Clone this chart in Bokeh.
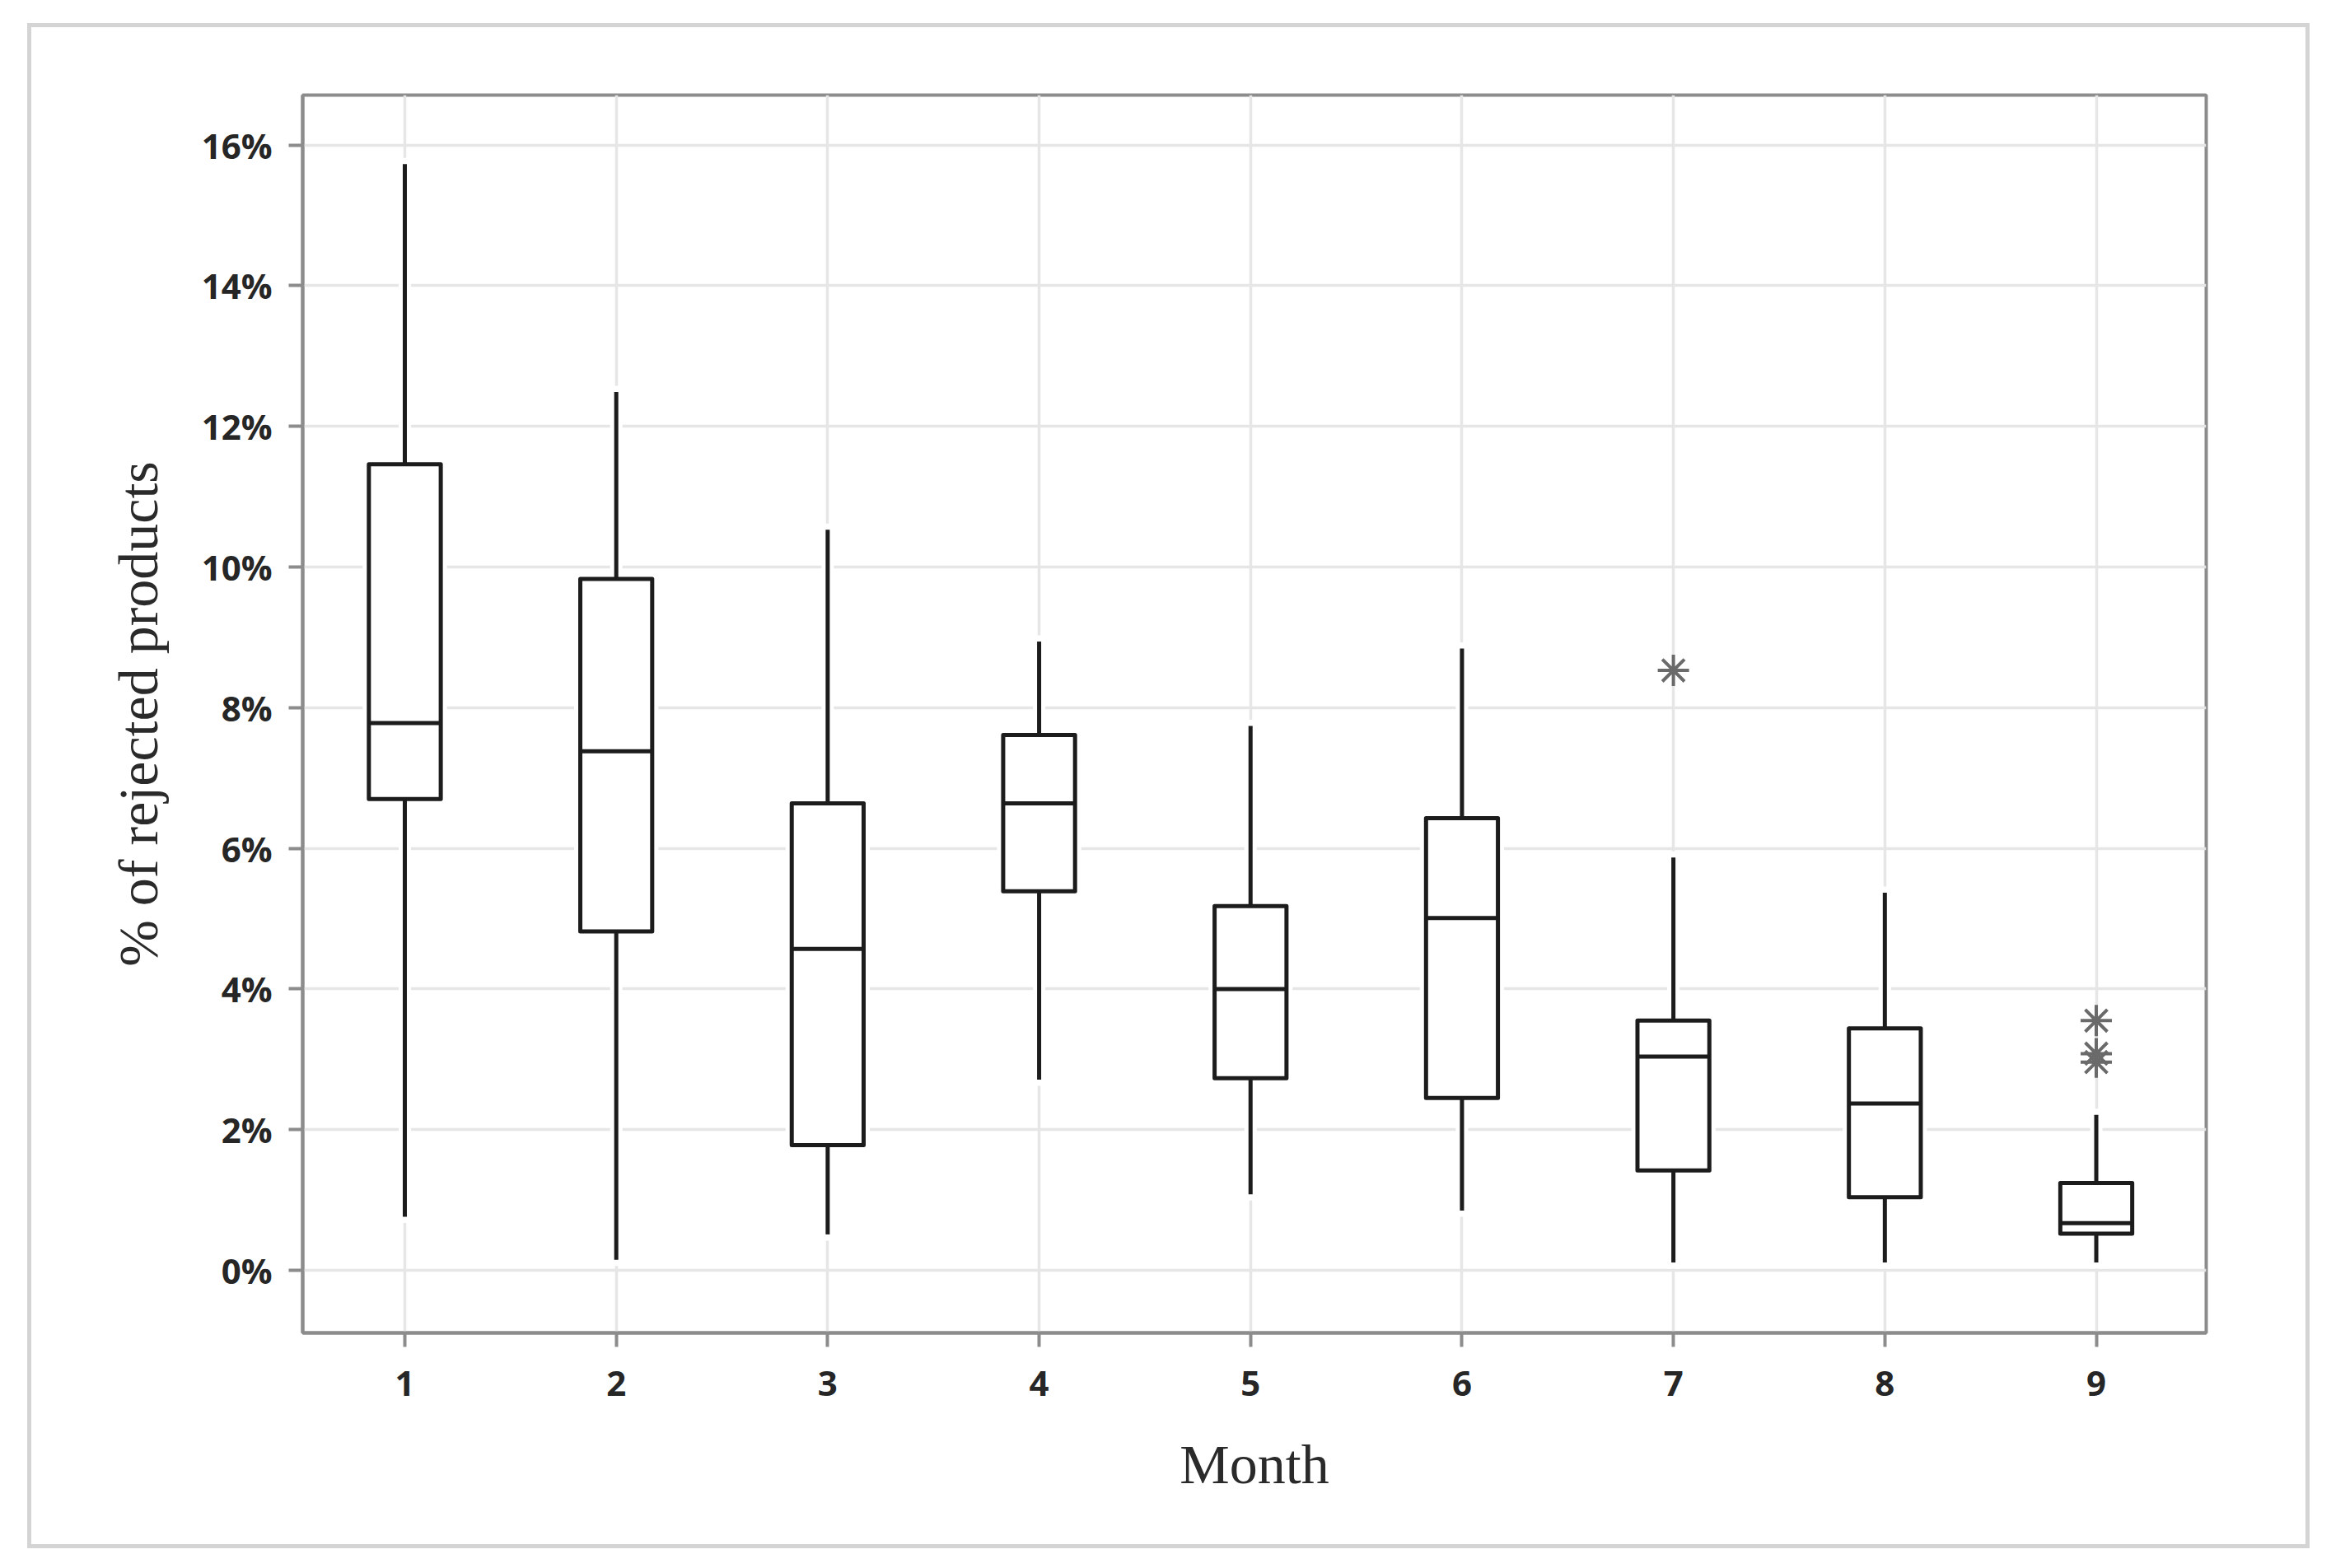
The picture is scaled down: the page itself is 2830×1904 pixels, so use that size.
import numpy as np
from bokeh.plotting import figure
from bokeh.models import FixedTicker, PrintfTickFormatter, Range1d, ColumnDataSource
from bokeh.embed import file_html
from bokeh.resources import INLINE

# ---- data (percent of rejected products) ----
months = [1, 2, 3, 4, 5, 6, 7, 8, 9]
whisker_low = [0.76, 0.15, 0.51, 2.71, 1.08, 0.85, 0.11, 0.11, 0.11]
q1 = [6.70, 4.82, 1.78, 5.39, 2.73, 2.45, 1.42, 1.04, 0.52]
median = [7.78, 7.38, 4.57, 6.64, 4.00, 5.01, 3.04, 2.37, 0.67]
q3 = [11.46, 9.83, 6.64, 7.61, 5.18, 6.43, 3.55, 3.44, 1.24]
whisker_high = [15.73, 12.49, 10.53, 8.94, 7.74, 8.84, 5.87, 5.37, 2.21]
outlier_month = [7, 9, 9, 9]
outlier_value = [8.53, 3.55, 3.08, 2.96]
y_ticks = [0, 2, 4, 6, 8, 10, 12, 14, 16]

box_width = 0.34
W, H = 2771, 1852

m = np.array(months, dtype=float)
src = ColumnDataSource(dict(
    x=m, low=whisker_low, q1=q1, med=median, q3=q3, high=whisker_high,
    xl=m - box_width / 2, xr=m + box_width / 2,
))

p = figure(width=W, height=H, output_backend="svg", toolbar_location=None,
           x_range=Range1d(0.517, 9.52), y_range=Range1d(-0.89, 16.71),
           min_border_left=334, min_border_top=87, min_border_right=126,
           min_border_bottom=262)
edge = "linear-gradient(#d4d4d4, #d4d4d4)"
p.styles = {
    "margin-left": "33px", "margin-top": "28px",
    "background-color": "white",
    "background-image": ", ".join([edge] * 4),
    "background-size": f"{W}px 5px, {W}px 5px, 5px {H}px, 5px {H}px",
    "background-position": f"0px 0px, 0px {H - 5}px, 0px 0px, {W - 5}px 0px",
    "background-repeat": "no-repeat",
}
p.border_fill_color = None
p.background_fill_color = "white"

# frame / axes
p.outline_line_color = "#8c8c8c"
p.outline_line_width = 4
p.outline_line_alpha = 1.0
for ax in (p.xaxis[0], p.yaxis[0]):
    ax.axis_line_color = "#8c8c8c"
    ax.axis_line_width = 4
    ax.major_tick_line_color = "#8c8c8c"
    ax.major_tick_line_width = 4
    ax.major_tick_out = 17
    ax.major_tick_in = 0
    ax.minor_tick_line_color = None
    ax.major_label_text_font = "Open Sans"
    ax.major_label_text_font_size = "42px"
    ax.major_label_text_font_style = "bold"
    ax.major_label_text_color = "#262626"
    ax.axis_label_text_font = "Liberation Serif"
    ax.axis_label_text_font_size = "68px"
    ax.axis_label_text_font_style = "normal"
    ax.axis_label_text_color = "#2a2a2a"

p.xaxis.ticker = FixedTicker(ticks=months)
p.yaxis.ticker = FixedTicker(ticks=y_ticks)
p.yaxis.formatter = PrintfTickFormatter(format="%d%%")
p.xaxis.axis_label = "Month"
p.yaxis.axis_label = "% of rejected products"
p.xaxis.major_label_standoff = 29
p.yaxis.major_label_standoff = 20
p.xaxis.axis_label_standoff = 42
p.yaxis.axis_label_standoff = 36

p.xgrid.grid_line_color = "#e6e6e6"
p.ygrid.grid_line_color = "#e6e6e6"
p.xgrid.grid_line_width = 3.5
p.ygrid.grid_line_width = 3.5

dark = "#1c1c1c"
lw = 5

# white halos (grid lines break around the boxes)
p.segment(x0="x", y0="low", x1="x", y1="q1", source=src, line_color="white",
          line_width=15, line_cap="square")
p.segment(x0="x", y0="q3", x1="x", y1="high", source=src, line_color="white",
          line_width=15, line_cap="square")
p.vbar(x="x", width=box_width, bottom="q1", top="q3", source=src,
       fill_color="white", line_color="white", line_width=15)

# whiskers
p.segment(x0="x", y0="low", x1="x", y1="q1", source=src, line_color=dark, line_width=lw)
p.segment(x0="x", y0="q3", x1="x", y1="high", source=src, line_color=dark, line_width=lw)
# boxes
p.vbar(x="x", width=box_width, bottom="q1", top="q3", source=src,
       fill_color="white", line_color=dark, line_width=lw, line_join="round")
# medians
p.segment(x0="xl", y0="med", x1="xr", y1="med", source=src, line_color=dark, line_width=lw)

# outliers
p.scatter(x=outlier_month, y=outlier_value, marker="asterisk", size=38,
          angle=np.pi / 2, line_color="#6a6a6a", line_width=4)

open("out.html", "w").write(file_html(p, INLINE))
